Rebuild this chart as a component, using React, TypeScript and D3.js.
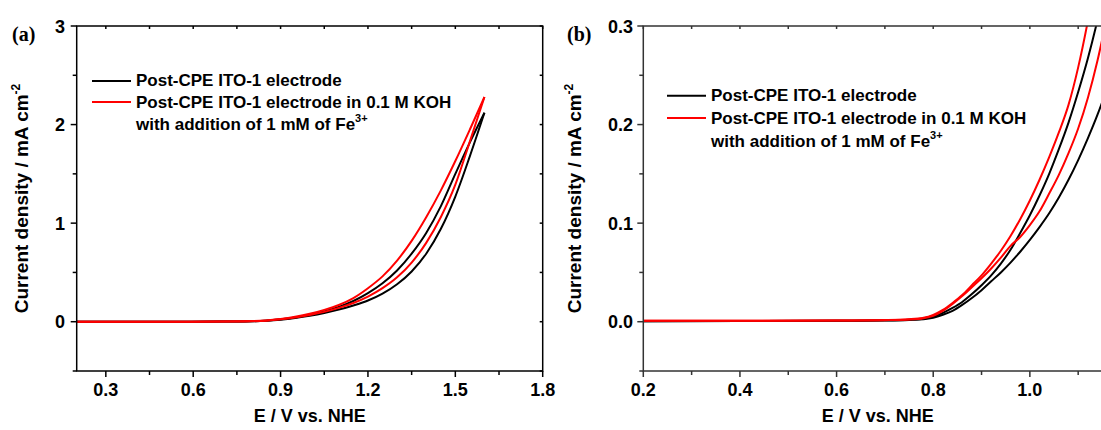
import React from 'react';
import * as d3 from 'd3';

// ---------- data ----------
// Panel (a): potential grid (V vs NHE) and current density (mA cm^-2) per scan branch
const potA = [0.2, 0.5, 0.7, 0.8, 0.85, 0.9, 0.95, 1.0, 1.05, 1.1, 1.15, 1.2, 1.25, 1.3, 1.35, 1.4, 1.45, 1.5, 1.55, 1.6];
const blackUpperA = [0, 0, 0.001, 0.005, 0.011, 0.024, 0.043, 0.07, 0.105, 0.15, 0.21, 0.29, 0.39, 0.52, 0.69, 0.9, 1.17, 1.5, 1.82, 2.12];
const blackLowerA = [0, 0, 0.001, 0.004, 0.01, 0.021, 0.038, 0.06, 0.088, 0.123, 0.165, 0.215, 0.285, 0.38, 0.51, 0.69, 0.94, 1.27, 1.68, 2.12];
const redUpperA = [0, 0, 0.002, 0.006, 0.013, 0.028, 0.05, 0.08, 0.12, 0.17, 0.24, 0.34, 0.46, 0.62, 0.82, 1.06, 1.33, 1.63, 1.95, 2.28];
const redLowerA = [0, 0, 0.001, 0.005, 0.011, 0.024, 0.043, 0.068, 0.1, 0.14, 0.19, 0.255, 0.34, 0.45, 0.6, 0.8, 1.06, 1.39, 1.83, 2.28];

// Panel (b)
const potB = [0.2, 0.4, 0.6, 0.7, 0.75, 0.78, 0.8, 0.82, 0.84, 0.86, 0.88, 0.9, 0.92, 0.94, 0.96, 0.98, 1.0, 1.02, 1.04, 1.06, 1.08, 1.1, 1.12, 1.14, 1.16, 1.18];
const blackUpperB = [0.0005, 0.0007, 0.001, 0.0014, 0.002, 0.003, 0.005, 0.009, 0.014, 0.02, 0.028, 0.037, 0.047, 0.059, 0.073, 0.09, 0.108, 0.128, 0.15, 0.175, 0.202, 0.233, 0.267, 0.306, 0.35, 0.4];
const blackLowerB = [0.0005, 0.0007, 0.001, 0.0013, 0.0018, 0.0025, 0.004, 0.007, 0.011, 0.017, 0.024, 0.032, 0.041, 0.05, 0.06, 0.071, 0.083, 0.096, 0.11, 0.126, 0.144, 0.164, 0.186, 0.21, 0.237, 0.266];
const redUpperB = [0.001, 0.001, 0.0012, 0.0017, 0.0025, 0.004, 0.007, 0.012, 0.019, 0.027, 0.037, 0.047, 0.059, 0.072, 0.087, 0.104, 0.123, 0.144, 0.167, 0.192, 0.22, 0.258, 0.305, 0.36, 0.42, 0.49];
const redLowerB = [0.001, 0.001, 0.0012, 0.0016, 0.0022, 0.0035, 0.006, 0.011, 0.018, 0.026, 0.035, 0.044, 0.054, 0.065, 0.077, 0.086, 0.098, 0.112, 0.13, 0.149, 0.171, 0.196, 0.227, 0.265, 0.31, 0.357];

const xTicksA = [0.3, 0.6, 0.9, 1.2, 1.5, 1.8];
const xMinorA = [0.45, 0.75, 1.05, 1.35, 1.65];
const yTicksA = [0, 1, 2, 3];
const yMinorA = [-0.5, 0.5, 1.5, 2.5];
const xTicksB = [0.2, 0.4, 0.6, 0.8, 1.0];
const xMinorB = [0.3, 0.5, 0.7, 0.9, 1.1];
const yTicksB = [0.0, 0.1, 0.2, 0.3];
const yMinorB = [-0.05, 0.05, 0.15, 0.25];

const legend1 = 'Post-CPE ITO-1 electrode';
const legend2a = 'Post-CPE ITO-1 electrode in 0.1 M KOH';
const legend2b = 'with addition of 1 mM of Fe';

const FONT = '"Liberation Sans", Arial, sans-serif';

type Series = { pot: number[]; cur: number[]; color: string };

type PanelProps = {
  id: string;
  tag: string;
  tagX: number;
  left: number;
  right: number;
  top: number;
  bottom: number;
  xDomain: [number, number];
  yDomain: [number, number];
  xTicks: number[];
  xMinor: number[];
  yTicks: number[];
  yMinor: number[];
  xFmt: (v: number) => string;
  yFmt: (v: number) => string;
  series: Series[];
  axisColor: string;
  yTitleX: number;
  yLabelX: number;
  legendX: number;
  legendY: number;
  legendGap: number;
  xTitleX?: number;
};

function Panel(p: PanelProps) {
  const x = d3.scaleLinear().domain(p.xDomain).range([p.left, p.right]);
  const y = d3.scaleLinear().domain(p.yDomain).range([p.bottom, p.top]);
  const line = d3
    .line<[number, number]>()
    .x((d) => x(d[0]))
    .y((d) => y(d[1]))
    .curve(d3.curveMonotoneX);
  const ac = p.axisColor;
  const sw = 1.5;
  const cx = p.xTitleX ?? (p.left + p.right) / 2;
  const cy = (p.top + p.bottom) / 2;
  return (
    <g>
      <defs>
        <clipPath id={`clip-${p.id}`}>
          <rect x={p.left} y={p.top} width={p.right - p.left} height={p.bottom - p.top} />
        </clipPath>
      </defs>
      {/* curves */}
      <g clipPath={`url(#clip-${p.id})`}>
        {p.series.map((s, i) => (
          <path
            key={i}
            d={line(s.pot.map((v, j) => [v, s.cur[j]] as [number, number])) || ''}
            fill="none"
            stroke={s.color}
            strokeWidth={2}
          />
        ))}
      </g>
      {/* frame */}
      <rect x={p.left} y={p.top} width={p.right - p.left} height={p.bottom - p.top} fill="none" stroke={ac} strokeWidth={sw} />
      {/* bottom ticks (outward) */}
      {p.xTicks.map((t) => (
        <line key={'bx' + t} x1={x(t)} x2={x(t)} y1={p.bottom} y2={p.bottom + 6} stroke={ac} strokeWidth={sw} />
      ))}
      {p.xMinor.map((t) => (
        <line key={'bxm' + t} x1={x(t)} x2={x(t)} y1={p.bottom} y2={p.bottom + 4} stroke={ac} strokeWidth={sw} />
      ))}
      {/* top ticks (inward) */}
      {[...p.xTicks, ...p.xMinor].map((t) => (
        <line key={'tx' + t} x1={x(t)} x2={x(t)} y1={p.top} y2={p.top + 3} stroke={ac} strokeWidth={sw} />
      ))}
      {/* left ticks (outward) */}
      {p.yTicks.map((t) => (
        <line key={'ly' + t} x1={p.left - 6} x2={p.left} y1={y(t)} y2={y(t)} stroke={ac} strokeWidth={sw} />
      ))}
      {p.yMinor.map((t) => (
        <line key={'lym' + t} x1={p.left - 4} x2={p.left} y1={y(t)} y2={y(t)} stroke={ac} strokeWidth={sw} />
      ))}
      {/* right ticks (inward) */}
      {[...p.yTicks, ...p.yMinor].map((t) => (
        <line key={'ry' + t} x1={p.right - 3} x2={p.right} y1={y(t)} y2={y(t)} stroke={ac} strokeWidth={sw} />
      ))}
      {/* tick labels */}
      {p.xTicks.map((t) => (
        <text key={'xl' + t} x={x(t)} y={396} textAnchor="middle" fontFamily={FONT} fontWeight="bold" fontSize={18} fill="#000">
          {p.xFmt(t)}
        </text>
      ))}
      {p.yTicks.map((t) => (
        <text key={'yl' + t} x={p.yLabelX} y={y(t) + 6.5} textAnchor="end" fontFamily={FONT} fontWeight="bold" fontSize={18} fill="#000">
          {p.yFmt(t)}
        </text>
      ))}
      {/* axis titles */}
      <text x={cx} y={422} textAnchor="middle" fontFamily={FONT} fontWeight="bold" fontSize={18} fill="#000">
        E / V vs. NHE
      </text>
      <text
        transform={`translate(${p.yTitleX},${cy}) rotate(-90)`}
        textAnchor="middle"
        fontFamily={FONT}
        fontWeight="bold"
        fontSize={19}
        fill="#000"
      >
        Current density / mA cm
        <tspan fontSize={12} dy={-8}>-2</tspan>
      </text>
      {/* panel tag */}
      <text x={p.tagX} y={41} fontFamily='"Liberation Serif", "Times New Roman", serif' fontWeight="bold" fontSize={20} fill="#000">
        {p.tag}
      </text>
      {/* legend */}
      <g fontFamily={FONT} fontWeight="bold" fontSize={17} fill="#000">
        <line x1={p.legendX - 44} x2={p.legendX - 5} y1={p.legendY - 5} y2={p.legendY - 5} stroke="#000" strokeWidth={2} />
        <text x={p.legendX} y={p.legendY}>{legend1}</text>
        <line x1={p.legendX - 44} x2={p.legendX - 5} y1={p.legendY + p.legendGap - 6} y2={p.legendY + p.legendGap - 6} stroke="#ff0000" strokeWidth={2} />
        <text x={p.legendX} y={p.legendY + p.legendGap}>{legend2a}</text>
        <text x={p.legendX} y={p.legendY + 2 * p.legendGap}>
          {legend2b}
          <tspan fontSize={11} dy={-8}>3+</tspan>
        </text>
      </g>
    </g>
  );
}

export default function App() {
  const fmt1 = (v: number) => d3.format('.1f')(v);
  const fmt0 = (v: number) => d3.format('d')(v);
  return (
    <svg
      width={1101}
      height={430}
      style={{ position: 'absolute', left: 0, top: 0, background: '#fff' }}
    >
      <Panel
        id="a"
        tag="(a)"
        tagX={12}
        left={76.7}
        right={542.7}
        top={26}
        bottom={371}
        xDomain={[0.2, 1.8]}
        yDomain={[-0.5, 3]}
        xTicks={xTicksA}
        xMinor={xMinorA}
        yTicks={yTicksA}
        yMinor={yMinorA}
        xFmt={fmt1}
        yFmt={fmt0}
        axisColor="#000"
        yTitleX={28}
        yLabelX={65}
        legendX={136}
        legendY={86}
        legendGap={22}
        series={[
          { pot: potA, cur: blackUpperA, color: '#000' },
          { pot: potA, cur: blackLowerA, color: '#000' },
          { pot: potA, cur: redUpperA, color: '#ff0000' },
          { pot: potA, cur: redLowerA, color: '#ff0000' },
        ]}
      />
      <Panel
        id="b"
        tag="(b)"
        tagX={567}
        left={643.3}
        right={1112}
        top={26}
        bottom={371}
        xDomain={[0.2, 1.17]}
        yDomain={[-0.05, 0.3]}
        xTicks={xTicksB}
        xMinor={xMinorB}
        yTicks={yTicksB}
        yMinor={yMinorB}
        xFmt={fmt1}
        yFmt={fmt1}
        axisColor="#333"
        yTitleX={581}
        yLabelX={633}
        legendX={711}
        legendY={100.7}
        legendGap={23.3}
        series={[
          { pot: potB, cur: blackUpperB, color: '#000' },
          { pot: potB, cur: blackLowerB, color: '#000' },
          { pot: potB, cur: redUpperB, color: '#ff0000' },
          { pot: potB, cur: redLowerB, color: '#ff0000' },
        ]}
      />
    </svg>
  );
}
